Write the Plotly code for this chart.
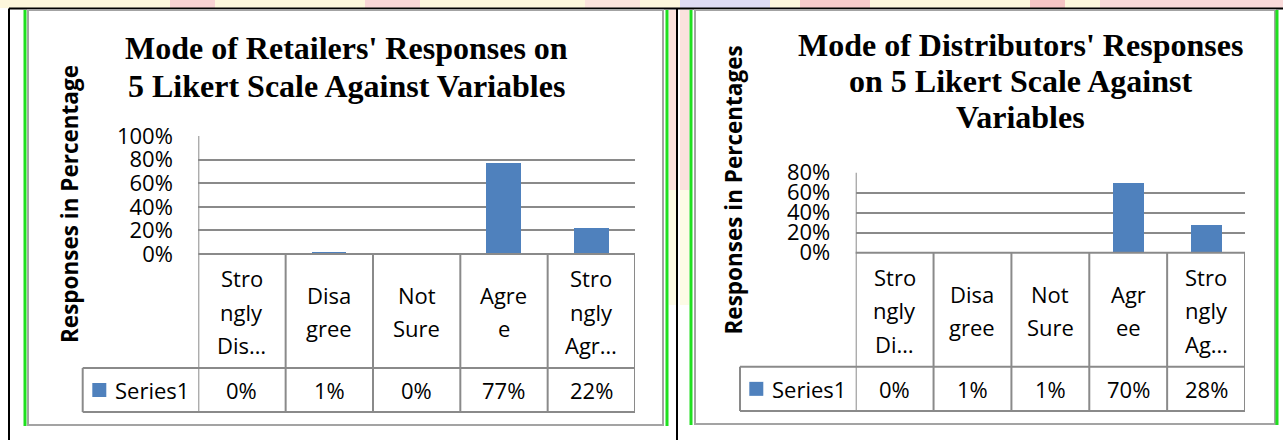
import plotly.graph_objects as go

W, H = 1283, 440

# ---------------- data ----------------
categories = ["Strongly Disagree", "Disagree", "Not Sure", "Agree", "Strongly Agree"]
retailer_labels = [["Stro", "ngly", "Dis…"], ["Disa", "gree"], ["Not", "Sure"], ["Agre", "e"], ["Stro", "ngly", "Agr…"]]
distributor_labels = [["Stro", "ngly", "Di…"], ["Disa", "gree"], ["Not", "Sure"], ["Agr", "ee"], ["Stro", "ngly", "Ag…"]]
retailer_values = [0, 1, 0, 77, 22]
distributor_values = [0, 1, 1, 70, 28]
retailer_ticks = [0, 20, 40, 60, 80, 100]
distributor_ticks = [0, 20, 40, 60, 80]
series_name = "Series1"
retailer_title = ["Mode of Retailers' Responses on", "5 Likert Scale Against Variables"]
distributor_title = ["Mode of Distributors' Responses", "on 5 Likert Scale Against", "Variables"]
retailer_ytitle = "Responses in Percentage"
distributor_ytitle = "Responses in Percentages"

# ---------------- style ----------------
BAR = "#4f81bd"
GRID = "#8a8a8a"
FRAME = "#a3a3a3"
GREEN = "#1fe01f"
SANS = "Open Sans"
SERIF = "Liberation Serif"


def P(x):
    return x / W


def Q(y):
    return 1 - y / H


panels = [
    dict(values=retailer_values, labels=retailer_labels, ticks=retailer_ticks, title=retailer_title,
         ytitle=retailer_ytitle, xa="x", ya="y", x0=198.3, x1=635.0, ytop=136.0, ybot=254.0,
         catbot=368.0, legbot=412.0, legleft=82.7, sqx=92.3, textx=113.0, titlex=346.0,
         titleys=[48, 86], ytx=69.0, yty=204.0, box=(28, 10, 663, 425), greens=(25, 667)),
    dict(values=distributor_values, labels=distributor_labels, ticks=distributor_ticks, title=distributor_title,
         ytitle=distributor_ytitle, xa="x2", ya="y2", x0=855.7, x1=1245.0, ytop=172.7, ybot=252.7,
         catbot=366.7, legbot=411.0, legleft=740.0, sqx=749.3, textx=770.0, titlex=1020.0,
         titleys=[45, 81, 117], ytx=733.0, yty=190.5, box=(695, 10, 1275, 424), greens=(691, 1277)),
]

fig = go.Figure()
shapes = []
annos = []

# background watermark bits
shapes.append(dict(type="rect", xref="paper", yref="paper", x0=0, x1=1, y0=Q(8), y1=1,
                   fillcolor="#fdf7dc", line=dict(width=0), layer="below"))
for a, b, c in [(170, 215, "#f8d3d3"), (365, 420, "#f9d6d6"), (585, 640, "#fbe3dc"),
                (680, 770, "#dedcf4"), (800, 870, "#f7cccc"), (1030, 1065, "#f5c4c4"),
                (1100, 1283, "#f9dada")]:
    shapes.append(dict(type="rect", xref="paper", yref="paper", x0=P(a), x1=P(b), y0=Q(8), y1=1,
                       fillcolor=c, line=dict(width=0), layer="below"))
for a, b in [(669, 676), (680, 689)]:
    shapes.append(dict(type="rect", xref="paper", yref="paper", x0=P(a), x1=P(b), y0=Q(190), y1=Q(10),
                       fillcolor="#fbe2dd", line=dict(width=0), layer="below"))
    shapes.append(dict(type="rect", xref="paper", yref="paper", x0=P(a), x1=P(b), y0=Q(305), y1=Q(190),
                       fillcolor="#fdfbe6", line=dict(width=0), layer="below"))

# outer black lines
shapes.append(dict(type="line", xref="paper", yref="paper", x0=P(9), x1=1, y0=Q(8.5), y1=Q(8.5),
                   line=dict(color="black", width=2)))
for xx in (9, 677):
    shapes.append(dict(type="line", xref="paper", yref="paper", x0=P(xx), x1=P(xx), y0=0, y1=Q(8.5),
                       line=dict(color="black", width=2)))

layout_axes = {}
for k, p in enumerate(panels):
    xa, ya = p["xa"], p["ya"]
    xkey = "xaxis" if k == 0 else "xaxis2"
    ykey = "yaxis" if k == 0 else "yaxis2"
    fig.add_trace(go.Bar(x=categories, y=p["values"], xaxis=xa, yaxis=ya, width=0.4,
                         marker=dict(color=BAR, line=dict(width=0)),
                         name=series_name, showlegend=False, hoverinfo="skip"))
    ymax = p["ticks"][-1]
    layout_axes[xkey] = dict(domain=[P(p["x0"]), P(p["x1"])], anchor=ya, type="category",
                             categoryorder="array", categoryarray=categories,
                             range=[-0.5, len(categories) - 0.5], showticklabels=False,
                             showgrid=False, zeroline=False, showline=False, ticks="",
                             automargin=False)
    layout_axes[ykey] = dict(domain=[Q(p["ybot"]), Q(p["ytop"])], anchor=xa, range=[0, ymax],
                             tickvals=p["ticks"], ticktext=[f"{t}%" for t in p["ticks"]],
                             tickfont=dict(family=SANS, size=22, color="black"),
                             showgrid=True, gridcolor=GRID, gridwidth=2, zeroline=False,
                             showline=False, ticks="outside", ticklen=20, tickcolor="rgba(0,0,0,0)",
                             automargin=False)

    xref = xa
    # column lines
    for i in range(len(categories) + 1):
        top = p["ytop"] if i == 0 else p["ybot"]
        shapes.append(dict(type="line", xref=xref, yref="paper", x0=i - 0.5, x1=i - 0.5,
                           y0=Q(p["legbot"]), y1=Q(top), line=dict(color=GRID, width=2)))
    # horizontal table lines
    shapes.append(dict(type="line", xref="paper", yref="paper", x0=P(p["x0"]), x1=P(p["x1"]),
                       y0=Q(p["ybot"]), y1=Q(p["ybot"]), line=dict(color=GRID, width=2)))
    for yy in (p["catbot"], p["legbot"]):
        shapes.append(dict(type="line", xref="paper", yref="paper", x0=P(p["legleft"]), x1=P(p["x1"]),
                           y0=Q(yy), y1=Q(yy), line=dict(color=GRID, width=2)))
    shapes.append(dict(type="line", xref="paper", yref="paper", x0=P(p["legleft"]), x1=P(p["legleft"]),
                       y0=Q(p["legbot"]), y1=Q(p["catbot"]), line=dict(color=GRID, width=2)))

    # legend key
    ymid = (p["catbot"] + p["legbot"]) / 2
    shapes.append(dict(type="rect", xref="paper", yref="paper", x0=P(p["sqx"]), x1=P(p["sqx"] + 14),
                       y0=Q(ymid + 7), y1=Q(ymid - 7), fillcolor=BAR, line=dict(width=0)))
    annos.append(dict(x=P(p["textx"]), y=Q(ymid), xref="paper", yref="paper", text=series_name,
                      showarrow=False, xanchor="left", yanchor="middle",
                      font=dict(family=SANS, size=22, color="black")))
    # values row
    for i, v in enumerate(p["values"]):
        annos.append(dict(x=i, y=Q(ymid), xref=xref, yref="paper", text=f"{v}%", showarrow=False,
                          xanchor="center", yanchor="middle", font=dict(family=SANS, size=22, color="black")))
    # category labels
    cmid = (p["ybot"] + p["catbot"]) / 2 + 0.5
    for i, lines in enumerate(p["labels"]):
        n = len(lines)
        for j, t in enumerate(lines):
            yy = cmid + (j - (n - 1) / 2) * 33.3
            annos.append(dict(x=i, y=Q(yy), xref=xref, yref="paper", text=t, showarrow=False,
                              xanchor="center", yanchor="middle",
                              font=dict(family=SANS, size=22, color="black")))
    # titles
    for t, yy in zip(p["title"], p["titleys"]):
        annos.append(dict(x=P(p["titlex"]), y=Q(yy), xref="paper", yref="paper", text=f"<b>{t}</b>",
                          showarrow=False, xanchor="center", yanchor="middle",
                          font=dict(family=SERIF, size=32, color="black")))
    annos.append(dict(x=P(p["ytx"]), y=Q(p["yty"]), xref="paper", yref="paper", text=f"<b>{p['ytitle']}</b>",
                      showarrow=False, textangle=-90, xanchor="center", yanchor="middle",
                      font=dict(family=SANS, size=22.5, color="black")))
    # chart box frame
    bx0, by0, bx1, by1 = p["box"]
    shapes.append(dict(type="rect", xref="paper", yref="paper", x0=P(bx0), x1=P(bx1), y0=Q(by1), y1=Q(by0),
                       line=dict(color=FRAME, width=2)))
    for gx in p["greens"]:
        shapes.append(dict(type="line", xref="paper", yref="paper", x0=P(gx), x1=P(gx), y0=Q(by1 + 1),
                           y1=Q(by0), line=dict(color=GREEN, width=3)))

fig.update_layout(width=W, height=H, margin=dict(l=0, r=0, t=0, b=0, pad=0, autoexpand=False),
                  paper_bgcolor="white", plot_bgcolor="rgba(0,0,0,0)",
                  shapes=shapes, annotations=annos, bargap=0, showlegend=False, **layout_axes)

fig.write_html("out.html", config={"displayModeBar": False},
               post_script="document.body.style.margin='0';document.body.style.overflow='hidden';")
